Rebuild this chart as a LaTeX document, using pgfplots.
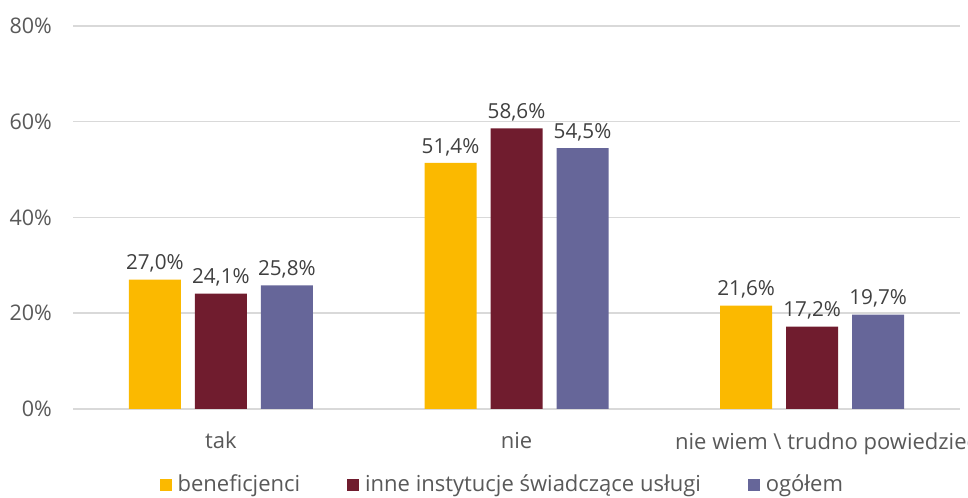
\documentclass[border=0pt]{standalone}
\usepackage{fontspec}
\setmainfont{Open Sans}
\usepackage{pgfplots}
\pgfplotsset{compat=1.18}
\definecolor{c1}{HTML}{FBB900}
\definecolor{c2}{HTML}{701C2E}
\definecolor{c3}{HTML}{666699}
\definecolor{gridc}{HTML}{D9D9D9}
\definecolor{tickc}{HTML}{595959}
\definecolor{labc}{HTML}{404040}
\begin{document}
\begin{tikzpicture}
\fontsize{21bp}{25bp}\selectfont
\useasboundingbox (0,0) rectangle (968bp,498bp);
\begin{axis}[
  at={(73bp,89bp)}, anchor=south west,
  scale only axis, width=887bp, height=383bp,
  xmin=-0.5, xmax=2.5, ymin=0, ymax=80,
  ybar=14bp, bar width=52bp,
  axis line style={draw=none},
  major tick length=0pt,
  ymajorgrids, grid style={gridc, line width=1.5bp},
  xtick={0,1,2},
  xticklabels={tak, nie, {\makebox[274bp][l]{nie wiem \textbackslash{} trudno powiedzieć}}},
  ytick={0,20,40,60,80},
  yticklabel={\pgfmathprintnumber{\tick}\%},
  /pgf/number format/assume math mode=true,
  yticklabel style={font=\fontsize{21.5bp}{25bp}\selectfont, text=tickc, xshift=-14bp},
  xticklabel style={font=\fontsize{22bp}{26bp}\selectfont, text=tickc, yshift=-16bp},
  nodes near coords={\pgfmathprintnumber[fixed,fixed zerofill,precision=1,use comma]{\pgfplotspointmeta}\%},
  every node near coord/.append style={font=\fontsize{20.7bp}{24bp}\selectfont, text=labc},
  legend style={at={(0.484,-0.198)}, anchor=center, legend columns=-1, draw=none,
    font=\fontsize{22bp}{26bp}\selectfont, text=tickc,
    /tikz/every even column/.append style={column sep=45bp}},
  legend image code/.code={\fill[#1] (0bp,-6bp) rectangle (12bp,6bp); \path (16bp,0bp);},
]
\addplot[fill=c1, draw=none] coordinates {(0,27.0) (1,51.4) (2,21.6)};
\addplot[fill=c2, draw=none] coordinates {(0,24.1) (1,58.6) (2,17.2)};
\addplot[fill=c3, draw=none] coordinates {(0,25.8) (1,54.5) (2,19.7)};
\legend{beneficjenci, inne instytucje świadczące usługi, ogółem}
\end{axis}
\end{tikzpicture}
\end{document}
